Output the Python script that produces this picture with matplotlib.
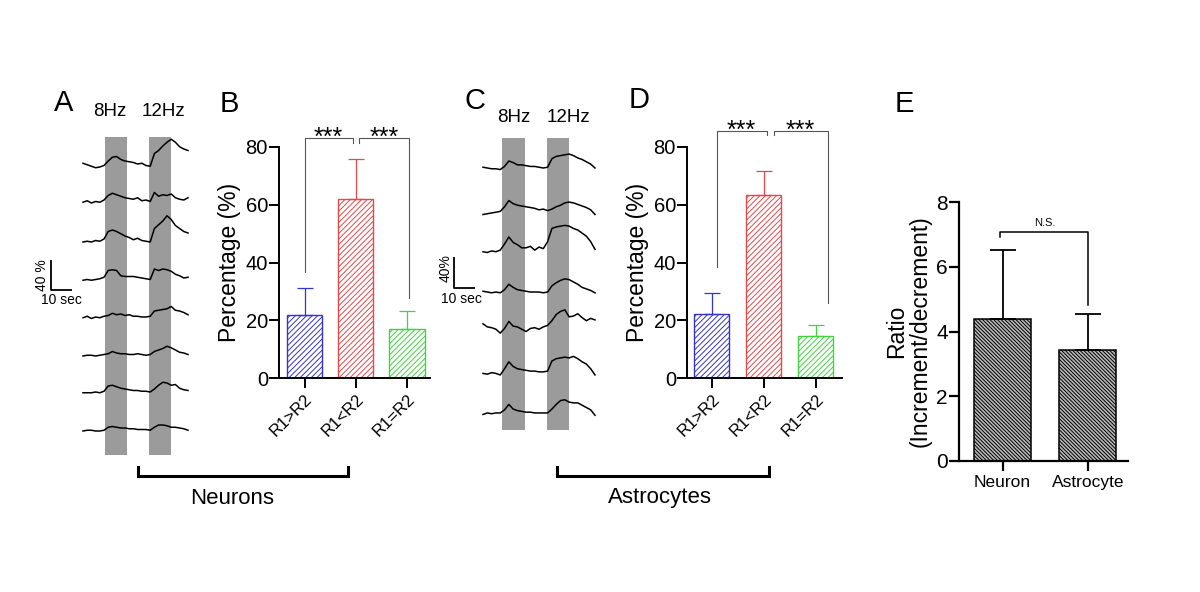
import numpy as np
import matplotlib
matplotlib.use("Agg")
import matplotlib.pyplot as plt

plt.rcParams['font.family'] = ['Liberation Sans', 'DejaVu Sans']
plt.rcParams['hatch.linewidth'] = 0.7

# ---------------- data ----------------
# Panel A (neurons): dF/F traces in %, sampled every 2 s
TIME_A = [0, 2, 4, 6, 8, 10, 12, 14, 16, 18, 20, 22, 24, 26, 28, 30, 32, 34, 36, 38, 40, 42, 44, 46, 48, 50]
A1 = [5, 3, 1, -1, 0, 2, 8, 13, 14, 10, 8, 7, 6, 4, 5, 2, 1, 18, 22, 28, 33, 37, 33, 27, 24, 22]
A2 = [0, 2, -1, 1, 0, 3, 9, 12, 10, 8, 6, 5, 4, 6, 2, 3, 1, 13, 8, 10, 9, 11, 6, 4, 3, 6]
A3 = [0, 1, 0, 2, 1, 4, 14, 16, 14, 11, 8, 6, 3, 5, 2, 1, 0, 18, 23, 28, 35, 30, 22, 18, 14, 12]
A4 = [0, 1, 0, 1, 2, 4, 13, 14, 13, 6, 5, 5, 5, 4, 3, 2, 1, 15, 13, 15, 14, 12, 8, 6, 3, 4]
A5 = [0, 2, -1, 1, 0, 2, 3, 6, 4, 5, 3, 4, 2, 2, 1, 1, 2, 9, 10, 11, 12, 15, 10, 9, 7, 4]
A6 = [0, 1, 1, 0, 1, 2, 3, 6, 4, 3, 3, 2, 2, 3, 2, 1, 2, 6, 8, 10, 13, 11, 8, 5, 4, 2]
A7 = [0, 0, 0, 1, 0, 2, 9, 10, 8, 6, 5, 4, 3, 3, 2, 2, 1, 5, 10, 14, 13, 10, 11, 6, 4, 3]
A8 = [0, 1, 1, 0, 0, 1, 5, 6, 5, 4, 4, 3, 3, 2, 2, 2, 1, 5, 8, 8, 7, 5, 5, 4, 3, 1]
TRACES_A = [A1, A2, A3, A4, A5, A6, A7, A8]
OFFSETS_A = [0, -47, -100, -151, -201, -252, -301, -352]
STIM_A = [(10.5, 21.0), (31.5, 42.0)]

# Panel C (astrocytes)
TIME_C = [0, 2, 4, 6, 8, 10, 12, 14, 16, 18, 20, 22, 24, 26, 28, 30, 32, 34, 36, 38, 40, 42, 44, 46, 48, 50, 52]
C1 = [1, 0, -1, -1, -2, 2, 9, 7, 4, 4, 3, 2, 2, 1, 0, 1, 12, 15, 16, 17, 18, 16, 13, 11, 8, 5, 0]
C2 = [-2, -1, 0, 1, 2, 8, 16, 12, 10, 9, 8, 7, 6, 4, 5, 3, 5, 8, 10, 13, 14, 13, 11, 9, 7, 4, -2]
C3 = [0, -1, 1, 0, 2, 10, 19, 12, 9, 5, 5, 7, 2, 6, 4, 13, 30, 32, 33, 34, 33, 30, 28, 24, 20, 13, 3]
C4 = [1, 0, -1, 0, -1, 3, 10, 6, 3, 2, 1, 0, 0, 0, -1, 0, 8, 12, 15, 17, 16, 13, 10, 6, 4, 2, -1]
C5 = [8, 4, 3, 1, -4, 2, 11, 5, 4, 1, -2, 2, 3, 1, 4, 6, 12, 20, 24, 26, 17, 18, 21, 16, 12, 15, 13]
C6 = [0, -1, 1, 0, -2, 6, 15, 9, 6, 5, 4, 3, 3, 2, 2, 3, 16, 19, 20, 21, 20, 22, 19, 15, 12, 6, -2]
C7 = [-2, 0, -1, 0, 0, 4, 11, 5, 3, 2, 1, 1, 0, 0, 0, 0, 5, 11, 16, 17, 14, 13, 13, 10, 7, 4, -3]
TRACES_C = [C1, C2, C3, C4, C5, C6, C7]
OFFSETS_C = [0, -58, -108, -160, -209, -265, -316]
STIM_C = [(8.8, 19.5), (29.7, 40.0)]

# Panels B / D: percentage of cells
CATEGORIES = ['R1>R2', 'R1<R2', 'R1=R2']
B_MEAN = [21.7, 62.1, 17.0]
B_SEM = [9.6, 13.8, 6.3]
D_MEAN = [22.0, 63.5, 14.7]
D_SEM = [7.6, 8.2, 3.6]

# Panel E: ratio increment/decrement
E_CATEGORIES = ['Neuron', 'Astrocyte']
E_MEAN = [4.38, 3.42]
E_SEM = [2.14, 1.12]

BAR_COLORS = ['#3434cc', '#e6474b', '#40d440']

# ---------------- figure ----------------
W, H = 1200, 592
fig = plt.figure(figsize=(W / 100, H / 100), dpi=100)


def px_axes(x0, y0, x1, y1, **kw):
    return fig.add_axes([x0 / W, 1 - y1 / H, (x1 - x0) / W, (y1 - y0) / H], **kw)


def trace_panel(box, time, traces, offsets, stims, xlim, ylim, sb):
    ax = px_axes(*box)
    ax.set_xlim(*xlim)
    ax.set_ylim(*ylim)
    ax.axis('off')
    for s0, s1 in stims:
        ax.axvspan(s0, s1, color='#9b9b9b', lw=0, zorder=0)
    for tr, off in zip(traces, offsets):
        ax.plot(time, np.array(tr) + off, color='black', lw=1.1,
                clip_on=False, zorder=2, solid_joinstyle='round')
    # scale bar: 40 % x 10 s
    x0, ytop, vtxt, ttxt, ylab_x, ylab_y, t_x, t_y = sb
    ax.plot([x0, x0, x0 + 10], [ytop, ytop - 40, ytop - 40], color='black',
            lw=1.3, clip_on=False, solid_capstyle='butt')
    ax.text(ylab_x, ylab_y, vtxt, rotation=90, ha='right', va='center',
            fontsize=10, clip_on=False)
    ax.text(t_x, t_y, ttxt, ha='center', va='top', fontsize=10, clip_on=False)
    return ax


# Panel A traces
trace_panel((83, 137, 188, 455), TIME_A, TRACES_A, OFFSETS_A, STIM_A,
            (0, 50), (-384, 40),
            (-15.2, -124, '40 %', '10 sec', -16.0, -144, -10.5, -168))
# Panel C traces
trace_panel((483, 138, 595, 430), TIME_C, TRACES_C, OFFSETS_C, STIM_C,
            (0, 52), (-338, 38.7),
            (-13.5, -115, '40%', '10 sec', -14.3, -129, -10.2, -160))


def style_axes(ax, lw=1.4):
    for s in ['top', 'right']:
        ax.spines[s].set_visible(False)
    for s in ['left', 'bottom']:
        ax.spines[s].set_linewidth(lw)
    ax.tick_params(axis='both', direction='out', length=7, width=lw, pad=1)


def pct_panel(box, xlim, width, means, sems, brackets, stars):
    ax = px_axes(*box)
    x = np.arange(len(means))
    ax.bar(x, means, width, color='white', edgecolor=BAR_COLORS,
           hatch='//////', linewidth=1.0, zorder=2)
    for i in range(len(means)):
        ax.errorbar(x[i], means[i], yerr=[[0], [sems[i]]], fmt='none',
                    ecolor=BAR_COLORS[i], elinewidth=0.9, capsize=6,
                    capthick=0.9, zorder=3)
    ax.set_xlim(*xlim)
    ax.set_ylim(0, 80)
    ax.set_yticks([0, 20, 40, 60, 80])
    ax.set_xticks(x)
    style_axes(ax)
    ax.tick_params(axis='y', labelsize=14.5)
    ax.set_xticklabels(CATEGORIES, rotation=45, ha='right',
                       rotation_mode='anchor', fontsize=12)
    ax.tick_params(axis='x', pad=3)
    ax.set_ylabel('Percentage (%)', fontsize=16.5, labelpad=3)
    for (xa, ya, xb, yb, ytop) in brackets:
        ax.plot([xa, xa, xb, xb], [ya, ytop, ytop, yb], color='#555555',
                lw=0.8, clip_on=False, zorder=4)
    for (xs, ys) in stars:
        ax.text(xs, ys, '***', ha='center', va='baseline', fontsize=18,
                clip_on=False)
    return ax


# Panel B
pct_panel((279, 147, 430, 378), (-0.5, 2.45), 0.686, B_MEAN, B_SEM,
          [(0.0, 36.7, 0.95, 81.4, 83.0), (1.06, 81.4, 2.04, 27.7, 83.0)],
          [(0.46, 80.9), (1.55, 80.9)])
# Panel D
pct_panel((687, 147, 842, 378), (-0.48, 2.5), 0.673, D_MEAN, D_SEM,
          [(0.1, 38.4, 1.06, 84.2, 85.6), (1.2, 84.2, 2.24, 26.0, 85.6)],
          [(0.56, 83.3), (1.69, 83.3)])

# Panel E
axE = px_axes(959, 202, 1128, 461)
xe = np.arange(len(E_MEAN))
axE.bar(xe, E_MEAN, 0.67, color='#b8b8b8', edgecolor='black',
        hatch='\\' * 9, linewidth=1.1, zorder=2)
axE.errorbar(xe, E_MEAN, yerr=[[0, 0], E_SEM], fmt='none', ecolor='black',
             elinewidth=1.3, capsize=9.5, capthick=1.3, zorder=3)
axE.set_xlim(-0.51, 1.47)
axE.set_ylim(0, 8)
axE.set_yticks([0, 2, 4, 6, 8])
axE.set_xticks(xe)
style_axes(axE, lw=1.6)
axE.tick_params(axis='y', labelsize=15)
axE.set_xticklabels(E_CATEGORIES, fontsize=12.5)
axE.tick_params(axis='x', pad=3)
axE.set_ylabel('Ratio\n(Increment/decrement)', fontsize=16.5, labelpad=3,
               linespacing=1.05)
axE.plot([-0.03, -0.03, 1.0, 1.0], [6.93, 7.06, 7.06, 4.82], color='black',
         lw=1.1, clip_on=False, zorder=4)
axE.text(0.5, 7.2, 'N.S.', ha='center', va='bottom', fontsize=8)

# ---------------- annotation overlay ----------------
ov = fig.add_axes([0, 0, 1, 1], facecolor='none')
ov.set_xlim(0, W)
ov.set_ylim(H, 0)
ov.axis('off')
for lab, (lx, ly) in {'A': (64, 103), 'B': (229, 104), 'C': (475, 101),
                      'D': (639, 100), 'E': (904, 104)}.items():
    ov.text(lx, ly, lab, fontsize=21, ha='center', va='center')
for txt, (tx, ty) in [('8Hz', (110, 111)), ('12Hz', (163, 111)),
                      ('8Hz', (514, 117)), ('12Hz', (568, 117))]:
    ov.text(tx, ty, txt, fontsize=13.5, ha='center', va='center')
for (bx0, bx1, name, tx) in [(138, 348, 'Neurons', 232), (557, 769, 'Astrocytes', 660)]:
    ov.plot([bx0, bx0, bx1, bx1], [467, 476, 476, 467], color='black', lw=2.2,
            solid_joinstyle='miter')
    ov.text(tx, 498, name, fontsize=16, ha='center', va='center')

fig.savefig('out.png', dpi=100)
